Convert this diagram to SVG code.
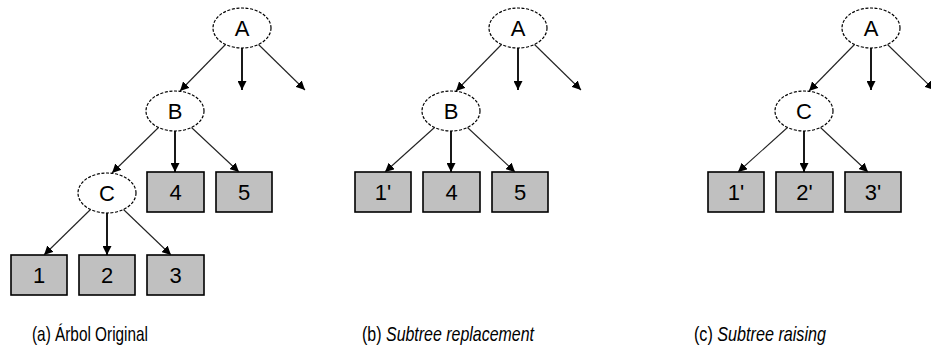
<svg xmlns="http://www.w3.org/2000/svg" width="931" height="356" viewBox="0 0 931 356">
<style>
.node ellipse{fill:#fff;stroke:#000;stroke-width:1.2;stroke-dasharray:3,1.6}
.leaf rect{fill:#c0c0c0;stroke:#000;stroke-width:1.6}
.lbl{font-family:"Liberation Sans",Arial,sans-serif;font-size:22px;fill:#000;text-anchor:middle}
.diag{stroke:#222;stroke-width:1.1;fill:none;marker-end:url(#ah)}
.vert{stroke:#000;stroke-width:1.8;fill:none;marker-end:url(#ah)}
.cap{font-family:"Liberation Sans",Arial,sans-serif;font-size:21px;fill:#000}
.it{font-style:italic}
</style>
<defs>
<marker id="ah" viewBox="0 0 10 10" refX="10" refY="5" markerWidth="9" markerHeight="9" markerUnits="userSpaceOnUse" orient="auto">
<path d="M0,0 L10,5 L0,10 z" fill="#000"/>
</marker>
</defs>
<rect width="931" height="356" fill="#fff"/>

<!-- Tree (a) -->
<g id="tree-a">
<g id="a-A" class="node"><ellipse cx="242" cy="28" rx="29" ry="20"/><text class="lbl" x="242" y="36">A</text></g>
<g id="a-B" class="node"><ellipse cx="175" cy="111" rx="29" ry="20"/><text class="lbl" x="175" y="119">B</text></g>
<g id="a-C" class="node"><ellipse cx="107" cy="193" rx="29" ry="20"/><text class="lbl" x="107" y="201">C</text></g>
<g id="a-4" class="leaf"><rect x="147" y="172" width="57" height="40"/><text class="lbl" x="175.5" y="200">4</text></g>
<g id="a-5" class="leaf"><rect x="216" y="172" width="56" height="40"/><text class="lbl" x="244" y="200">5</text></g>
<g id="a-1" class="leaf"><rect x="11" y="255" width="56" height="40"/><text class="lbl" x="39" y="283">1</text></g>
<g id="a-2" class="leaf"><rect x="79" y="255" width="56" height="40"/><text class="lbl" x="107" y="283">2</text></g>
<g id="a-3" class="leaf"><rect x="147" y="255" width="57" height="40"/><text class="lbl" x="175.5" y="283">3</text></g>
<g id="a-connectors">
<line class="diag" x1="225.5" y1="44.5" x2="180" y2="91"/>
<line class="vert" x1="242" y1="48" x2="242" y2="90"/>
<line class="diag" x1="258.5" y1="44.5" x2="305" y2="90"/>
<line class="diag" x1="158.5" y1="127.5" x2="112" y2="173"/>
<line class="vert" x1="175" y1="131" x2="175" y2="172"/>
<line class="diag" x1="191.5" y1="127.5" x2="239" y2="172"/>
<line class="diag" x1="90.5" y1="209.5" x2="44" y2="255"/>
<line class="vert" x1="107" y1="213" x2="107" y2="255"/>
<line class="diag" x1="123.5" y1="209.5" x2="171" y2="255"/>
</g>
</g>

<!-- Tree (b) -->
<g id="tree-b" transform="translate(276,0)">
<g id="b-A" class="node"><ellipse cx="242" cy="28" rx="29" ry="20"/><text class="lbl" x="242" y="36">A</text></g>
<g id="b-B" class="node"><ellipse cx="175" cy="111" rx="29" ry="20"/><text class="lbl" x="175" y="119">B</text></g>
<g id="b-1p" class="leaf"><rect x="79" y="172" width="56" height="40"/><text class="lbl" x="107" y="200">1'</text></g>
<g id="b-4" class="leaf"><rect x="147" y="172" width="57" height="40"/><text class="lbl" x="175.5" y="200">4</text></g>
<g id="b-5" class="leaf"><rect x="216" y="172" width="56" height="40"/><text class="lbl" x="244" y="200">5</text></g>
<g id="b-connectors">
<line class="diag" x1="225.5" y1="44.5" x2="180" y2="91"/>
<line class="vert" x1="242" y1="48" x2="242" y2="90"/>
<line class="diag" x1="258.5" y1="44.5" x2="305" y2="90"/>
<line class="diag" x1="158.5" y1="127.5" x2="109" y2="172"/>
<line class="vert" x1="175" y1="131" x2="175" y2="172"/>
<line class="diag" x1="191.5" y1="127.5" x2="239" y2="172"/>
</g>
</g>

<!-- Tree (c) -->
<g id="tree-c" transform="translate(629,0)">
<g id="c-A" class="node"><ellipse cx="242" cy="28" rx="29" ry="20"/><text class="lbl" x="242" y="36">A</text></g>
<g id="c-C" class="node"><ellipse cx="175" cy="111" rx="29" ry="20"/><text class="lbl" x="175" y="119">C</text></g>
<g id="c-1p" class="leaf"><rect x="79" y="172" width="56" height="40"/><text class="lbl" x="107" y="200">1'</text></g>
<g id="c-2p" class="leaf"><rect x="147" y="172" width="57" height="40"/><text class="lbl" x="175.5" y="200">2'</text></g>
<g id="c-3p" class="leaf"><rect x="216" y="172" width="56" height="40"/><text class="lbl" x="244" y="200">3'</text></g>
<g id="c-connectors">
<line class="diag" x1="225.5" y1="44.5" x2="180" y2="91"/>
<line class="vert" x1="242" y1="48" x2="242" y2="90"/>
<line class="diag" x1="258.5" y1="44.5" x2="305" y2="90"/>
<line class="diag" x1="158.5" y1="127.5" x2="109" y2="172"/>
<line class="vert" x1="175" y1="131" x2="175" y2="172"/>
<line class="diag" x1="191.5" y1="127.5" x2="239" y2="172"/>
</g>
</g>

<g id="captions">
<text class="cap" x="32" y="341" textLength="116" lengthAdjust="spacingAndGlyphs">(a) Árbol Original</text>
<text class="cap" x="362" y="341" textLength="19.5" lengthAdjust="spacingAndGlyphs">(b)</text>
<text class="cap it" x="386" y="341" textLength="148" lengthAdjust="spacingAndGlyphs">Subtree replacement</text>
<text class="cap" x="694" y="341" textLength="18.8" lengthAdjust="spacingAndGlyphs">(c)</text>
<text class="cap it" x="717.3" y="341" textLength="108.7" lengthAdjust="spacingAndGlyphs">Subtree raising</text>
</g>
</svg>
